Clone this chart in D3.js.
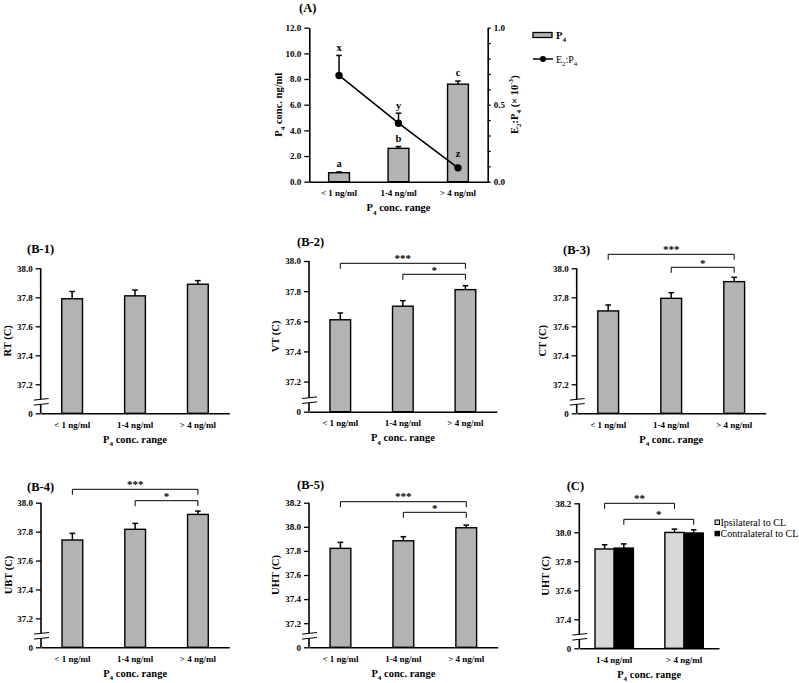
<!DOCTYPE html>
<html><head><meta charset="utf-8">
<script src="https://cdn.jsdelivr.net/npm/d3@7"></script>
<style>body{margin:0;background:#fff}svg{display:block}text{font-family:"Liberation Serif","Times New Roman",serif}</style>
</head><body><svg id="c" width="799" height="683"></svg>
<script>
// ---------- data ----------
const categories = ["< 1 ng/ml", "1-4 ng/ml", "> 4 ng/ml"];
const p4Mean = [0.7, 2.6, 7.6];
const p4Se = [0.06, 0.14, 0.24];
const p4Letters = ["a", "b", "c"];
const ratioMean = [0.69, 0.38, 0.09];
const ratioSe = [0.13, 0.065, 0.005];
const ratioLetters = ["x", "y", "z"];
const p4Ticks = [0, 2, 4, 6, 8, 10, 12];
const ratioTicks = [0, 0.1, 0.2, 0.3, 0.4, 0.5, 0.6, 0.7, 0.8, 0.9, 1.0];
const ratioLabelled = [0, 0.5, 1.0];

const rtMean = [37.79, 37.81, 37.89];   const rtSe = [0.05, 0.04, 0.025];
const vtMean = [37.61, 37.70, 37.81];   const vtSe = [0.045, 0.037, 0.026];
const ctMean = [37.706, 37.793, 37.908]; const ctSe = [0.041, 0.039, 0.03];
const ubtMean = [37.742, 37.816, 37.919]; const ubtSe = [0.046, 0.041, 0.023];
const uhtMean = [37.821, 37.884, 37.992]; const uhtSe = [0.05, 0.034, 0.022];
const tempTicks = [37.0, 37.2, 37.4, 37.6, 37.8, 38.0];
const uhtTicks = [37.0, 37.2, 37.4, 37.6, 37.8, 38.0, 38.2];
const sigPairs = [[0, 2, "***"], [1, 2, "*"]];

const cCategories = ["1-4 ng/ml", "> 4 ng/ml"];
const cSeries = ["Ipsilateral to CL", "Contralateral to CL"];
const ipsiMean = [37.885, 37.999];  const ipsiSe = [0.029, 0.023];
const contraMean = [37.891, 37.995]; const contraSe = [0.029, 0.022];
const cTicks = [37.2, 37.4, 37.6, 37.8, 38.0, 38.2];
const cSig = [[0, 1, 0, "**"], [0, 1, 1, "*"]]; // cat a, cat b, series, label

// ---------- helpers ----------
const svg = d3.select("#c");
const GRAY = "#b3b3b3", LIGHT = "#d7d7d7";
function rich(t, parts, fs) {
  let shift = 0;
  parts.forEach(([s, k]) => {
    const target = k === "sub" ? fs * 0.32 : k === "sup" ? -fs * 0.4 : 0;
    const ts = t.append("tspan").text(s).attr("dy", target - shift);
    if (k !== "n") ts.attr("font-size", fs * 0.68);
    shift = target;
  });
}
const p4Parts = [["P", "n"], ["4", "sub"], [" conc. range", "n"]];
function styleAxis(g, fs) {
  g.selectAll("text").attr("font-family", "Liberation Serif").attr("font-weight", "bold")
    .attr("font-size", fs).attr("fill", "#000");
  g.selectAll("line").attr("stroke", "#000").attr("stroke-width", 1.3);
  g.selectAll("path.domain").attr("stroke", "#000").attr("stroke-width", 1.6);
}
function xAxisDraw(x, bottom, cats) {
  const g = svg.append("g").attr("transform", `translate(0,${bottom})`)
    .call(d3.axisBottom(x).tickSize(0).tickPadding(8).tickSizeOuter(0));
  styleAxis(g, 9);
  return g;
}
function errBar(cx, y0, y1) {
  svg.append("line").attr("x1", cx).attr("x2", cx).attr("y1", y0).attr("y2", y1)
    .attr("stroke", "#000").attr("stroke-width", 1.5);
  svg.append("line").attr("x1", cx - 2.8).attr("x2", cx + 2.8).attr("y1", y1).attr("y2", y1)
    .attr("stroke", "#000").attr("stroke-width", 1.5);
}
function bracket(x1, x2, ly, ty, label) {
  svg.append("path").attr("d", `M${x1},${ly + 5.5}V${ly}H${x2}V${ly + 5.5}`)
    .attr("fill", "none").attr("stroke", "#000").attr("stroke-width", 1);
  svg.append("text").attr("x", (x1 + x2) / 2).attr("y", ty + 5).attr("text-anchor", "middle")
    .attr("font-size", 11).attr("font-weight", "bold").text(label);
}
function title(x, y, s) {
  svg.append("text").attr("x", x).attr("y", y).attr("font-size", 12.5).attr("font-weight", "bold").text(s);
}
function yLabel(cx, cy, parts, fs) {
  const t = svg.append("text").attr("transform", `translate(${cx + 3.6},${cy}) rotate(-90)`)
    .attr("text-anchor", "middle").attr("font-size", fs).attr("font-weight", "bold");
  rich(t, parts, fs);
}
function xTitle(cx, y) {
  const t = svg.append("text").attr("x", cx).attr("y", y).attr("text-anchor", "middle")
    .attr("font-size", 10.5).attr("font-weight", "bold");
  rich(t, p4Parts, 10.5);
}
function brokenYAxis(y, cfg, ticks) {
  const zero = cfg.domain[0];
  const g = svg.append("g").attr("transform", `translate(${cfg.left},0)`)
    .call(d3.axisLeft(y).tickValues(ticks).tickSize(5).tickPadding(3).tickSizeOuter(0)
      .tickFormat(d => Math.abs(d - zero) < 1e-9 ? "0" : d3.format(".1f")(d)));
  styleAxis(g, 9);
  g.select("path.domain").remove();
  const b = cfg.bottom;
  svg.append("line").attr("x1", cfg.left).attr("x2", cfg.left).attr("y1", cfg.top).attr("y2", b - 14)
    .attr("stroke", "#000").attr("stroke-width", 1.6);
  svg.append("line").attr("x1", cfg.left).attr("x2", cfg.left).attr("y1", b - 9).attr("y2", b)
    .attr("stroke", "#000").attr("stroke-width", 1.6);
  [b - 14, b - 9].forEach(yy => svg.append("line").attr("x1", cfg.left - 7).attr("x2", cfg.left + 8)
    .attr("y1", yy + 0.8).attr("y2", yy - 0.8).attr("stroke", "#000").attr("stroke-width", 1));
}

// ---------- Panel A ----------
(function () {
  const L = 309.3, R = 487.7, T = 27.7, B = 181.7;
  const x = d3.scaleBand().domain(categories).range([L, R]).paddingInner(0.65).paddingOuter(0.325);
  const y = d3.scaleLinear().domain([0, 12]).range([B, T]);
  const yr = d3.scaleLinear().domain([0, 1]).range([B, T]);
  const bw = x.bandwidth();
  categories.forEach((c, i) => {
    svg.append("rect").attr("x", x(c)).attr("y", y(p4Mean[i])).attr("width", bw)
      .attr("height", y(0) - y(p4Mean[i])).attr("fill", GRAY).attr("stroke", "#000").attr("stroke-width", 1.4);
    errBar(x(c) + bw / 2, y(p4Mean[i]), y(p4Mean[i] + p4Se[i]));
    svg.append("text").attr("x", x(c) + bw / 2).attr("y", y(p4Mean[i] + p4Se[i]) - 5)
      .attr("text-anchor", "middle").attr("font-size", 10.5).attr("font-weight", "bold").text(p4Letters[i]);
  });
  const gl = svg.append("g").attr("transform", `translate(${L},0)`)
    .call(d3.axisLeft(y).tickValues(p4Ticks).tickSize(5).tickPadding(3).tickSizeOuter(0).tickFormat(d3.format(".1f")));
  styleAxis(gl, 9);
  const gr = svg.append("g").attr("transform", `translate(${R},0)`)
    .call(d3.axisRight(yr).tickValues(ratioTicks).tickSize(3).tickPadding(3).tickSizeOuter(0)
      .tickFormat(d => ratioLabelled.some(v => Math.abs(v - d) < 1e-9) ? d3.format(".1f")(d) : ""));
  styleAxis(gr, 9);
  xAxisDraw(x, B, categories);
  // line
  const cx = i => x(categories[i]) + bw / 2;
  svg.append("path").attr("d", d3.line().x((d, i) => cx(i)).y(d => yr(d))(ratioMean))
    .attr("fill", "none").attr("stroke", "#000").attr("stroke-width", 1.6);
  ratioMean.forEach((v, i) => {
    errBar(cx(i), yr(v), yr(v + ratioSe[i]));
    svg.append("circle").attr("cx", cx(i)).attr("cy", yr(v)).attr("r", 3.7).attr("fill", "#000");
    svg.append("text").attr("x", cx(i)).attr("y", Math.min(yr(v + ratioSe[i]), yr(v) - 7) - 4)
      .attr("text-anchor", "middle").attr("font-size", 10.5).attr("font-weight", "bold").text(ratioLetters[i]);
  });
  title(299, 11.5, "(A)");
  yLabel(278, (T + B) / 2, [["P", "n"], ["4", "sub"], [" conc. ng/ml", "n"]], 10.5);
  yLabel(514, (T + B) / 2, [["E", "n"], ["2", "sub"], [":P", "n"], ["4", "sub"], [" (× 10", "n"], ["-3", "sup"], [")", "n"]], 10.5);
  xTitle((L + R) / 2, B + 29.5);
  // legend
  svg.append("rect").attr("x", 533).attr("y", 32.5).attr("width", 19).attr("height", 5)
    .attr("fill", GRAY).attr("stroke", "#000").attr("stroke-width", 1.3);
  const t1 = svg.append("text").attr("x", 556).attr("y", 39).attr("font-size", 10.5).attr("font-weight", "bold");
  rich(t1, [["P", "n"], ["4", "sub"]], 10.5);
  svg.append("line").attr("x1", 533).attr("x2", 553).attr("y1", 59).attr("y2", 59).attr("stroke", "#000").attr("stroke-width", 1.5);
  svg.append("circle").attr("cx", 543).attr("cy", 59).attr("r", 3).attr("fill", "#000");
  const t2 = svg.append("text").attr("x", 556).attr("y", 62.5).attr("font-size", 10);
  rich(t2, [["E", "n"], ["2", "sub"], [":P", "n"], ["4", "sub"]], 10);
})();

// ---------- Panels B ----------
const bPanels = [
  { title: "(B-1)", tx: 27, ty: 252.5, left: 40.7, right: 229.3, top: 268.3, bottom: 413.3, domain: [37, 38], ticks: tempTicks, lab: "RT (C)", lx: 7, mean: rtMean, se: rtSe, sig: [], bk: [] },
  { title: "(B-2)", tx: 297, ty: 245.5, left: 309, right: 496.7, top: 261, bottom: 411.7, domain: [37, 38], ticks: tempTicks, lab: "VT (C)", lx: 275, mean: vtMean, se: vtSe, sig: sigPairs, bk: [[263.3, 256.7], [274.3, 269]] },
  { title: "(B-3)", tx: 563, ty: 253.5, left: 576.7, right: 765.7, top: 268.3, bottom: 413.3, domain: [37, 38], ticks: tempTicks, lab: "CT (C)", lx: 542.3, mean: ctMean, se: ctSe, sig: sigPairs, bk: [[254.3, 248.3], [267.3, 261.7]] },
  { title: "(B-4)", tx: 27, ty: 491, left: 41, right: 229.3, top: 502.7, bottom: 647.3, domain: [37, 38], ticks: tempTicks, lab: "UBT (C)", lx: 8.3, mean: ubtMean, se: ubtSe, sig: sigPairs, bk: [[489.3, 483.3], [500.7, 495]] },
  { title: "(B-5)", tx: 297, ty: 488.5, left: 309, right: 497.7, top: 502.7, bottom: 647.3, domain: [37, 38.2], ticks: uhtTicks, lab: "UHT (C)", lx: 275, mean: uhtMean, se: uhtSe, sig: sigPairs, bk: [[501.7, 495], [512.3, 506.7]] }
];
bPanels.forEach(p => {
  const x = d3.scaleBand().domain(categories).range([p.left, p.right]).paddingInner(0.67).paddingOuter(0.335);
  const y = d3.scaleLinear().domain(p.domain).range([p.bottom, p.top]);
  const bw = x.bandwidth();
  categories.forEach((c, i) => {
    svg.append("rect").attr("x", x(c)).attr("y", y(p.mean[i])).attr("width", bw)
      .attr("height", y(p.domain[0]) - y(p.mean[i])).attr("fill", GRAY).attr("stroke", "#000").attr("stroke-width", 1.4);
    errBar(x(c) + bw / 2, y(p.mean[i]), y(p.mean[i] + p.se[i]));
  });
  brokenYAxis(y, p, p.ticks);
  xAxisDraw(x, p.bottom, categories);
  p.sig.forEach((s, k) => bracket(x(categories[s[0]]) + bw / 2, x(categories[s[1]]) + bw / 2, p.bk[k][0], p.bk[k][1], s[2]));
  title(p.tx, p.ty, p.title);
  yLabel(p.lx, (p.top + p.bottom) / 2, [[p.lab, "n"]], 10.5);
  xTitle((p.left + p.right) / 2, p.bottom + 29.5);
});

// ---------- Panel C ----------
(function () {
  const cfg = { left: 579.3, right: 719, top: 503.3, bottom: 648.3, domain: [37.2, 38.2] };
  const x = d3.scaleBand().domain(cCategories).range([cfg.left, cfg.right]).paddingInner(0.45).paddingOuter(0.225);
  const xs = d3.scaleBand().domain(cSeries).range([0, x.bandwidth()]);
  const y = d3.scaleLinear().domain(cfg.domain).range([cfg.bottom, cfg.top]);
  const means = [ipsiMean, contraMean], ses = [ipsiSe, contraSe], fills = [LIGHT, "#000"];
  const bw = xs.bandwidth();
  cCategories.forEach((c, i) => {
    cSeries.forEach((s, j) => {
      const bx = x(c) + xs(s);
      svg.append("rect").attr("x", bx).attr("y", y(means[j][i])).attr("width", bw)
        .attr("height", y(cfg.domain[0]) - y(means[j][i])).attr("fill", fills[j]).attr("stroke", "#000").attr("stroke-width", 1.4);
      errBar(bx + bw / 2, y(means[j][i]), y(means[j][i] + ses[j][i]));
    });
  });
  brokenYAxis(y, cfg, cTicks);
  xAxisDraw(x, cfg.bottom, cCategories);
  const bk = [[503.3, 496.7], [519.3, 513.3]];
  cSig.forEach((s, k) => {
    const sx = cSeries[s[2]];
    bracket(x(cCategories[s[0]]) + xs(sx) + bw / 2, x(cCategories[s[1]]) + xs(sx) + bw / 2, bk[k][0], bk[k][1], s[3]);
  });
  title(566.7, 490, "(C)");
  yLabel(545, (cfg.top + cfg.bottom) / 2, [["UHT (C)", "n"]], 10.5);
  xTitle((cfg.left + cfg.right) / 2, cfg.bottom + 29.5);
  cSeries.forEach((s, j) => {
    const yy = 520 + j * 11.3;
    svg.append("rect").attr("x", 715).attr("y", yy).attr("width", 4.5).attr("height", 4.5)
      .attr("fill", fills[j]).attr("stroke", "#000").attr("stroke-width", 1);
    svg.append("text").attr("x", 720.5).attr("y", yy + 5.6).attr("font-size", 10).text(s);
  });
})();
</script></body></html>
